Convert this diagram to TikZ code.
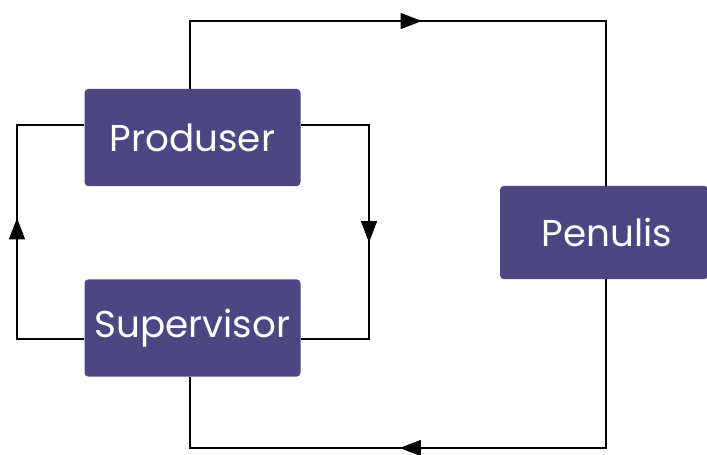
\documentclass[tikz,border=0pt]{standalone}
\usepackage{fontspec}
\setmainfont{Poppins}
\usetikzlibrary{arrows.meta,decorations.markings}
\definecolor{boxpurple}{RGB}{76,71,130}
\tikzset{
  role/.style={fill=boxpurple, rounded corners=3pt, text=white, inner sep=0pt, font=\fontsize{28}{32}\selectfont},
  link/.style={line width=0.8pt, postaction={decorate}},
  tipat/.style={decoration={markings, mark=at position #1 with {\arrow{Triangle[length=16pt,width=12pt]}}}}
}
\begin{document}
\begin{tikzpicture}[x=0.75pt,y=0.75pt,yscale=-1,xscale=1]
\useasboundingbox (0,0) rectangle (707,454);
% boxes
\node[role, minimum width=162pt, minimum height=73pt] (prod) at (192.5,137.5) {Produser};
\node[role, minimum width=162pt, minimum height=73pt] (sup) at (192.5,328) {Supervisor};
\node[role, minimum width=156pt, minimum height=70pt] (pen) at (604,232.5) {\hspace{4pt}Penulis};
% corners of the loops
\coordinate (lt) at (17,125);
\coordinate (lb) at (17,339);
\coordinate (rt) at (369,125);
\coordinate (rb) at (369,339);
\coordinate (tl) at (190,21);
\coordinate (tr) at (606,21);
\coordinate (bl) at (190,448);
\coordinate (br) at (606,448);
% feedback loop
\draw[link, tipat=0.54] (sup.west |- lb) -- (lb) -- (lt) -- (prod.west |- lt);
\draw[link, tipat=0.53] (prod.east |- rt) -- (rt) -- (rb) -- (sup.east |- rb);
% outer loop
\draw[link, tipat=0.462] (tl |- prod.north) -- (tl) -- (tr) -- (tr |- pen.north);
\draw[link, tipat=0.572] (br |- pen.south) -- (br) -- (bl) -- (bl |- sup.south);
\end{tikzpicture}
\end{document}
